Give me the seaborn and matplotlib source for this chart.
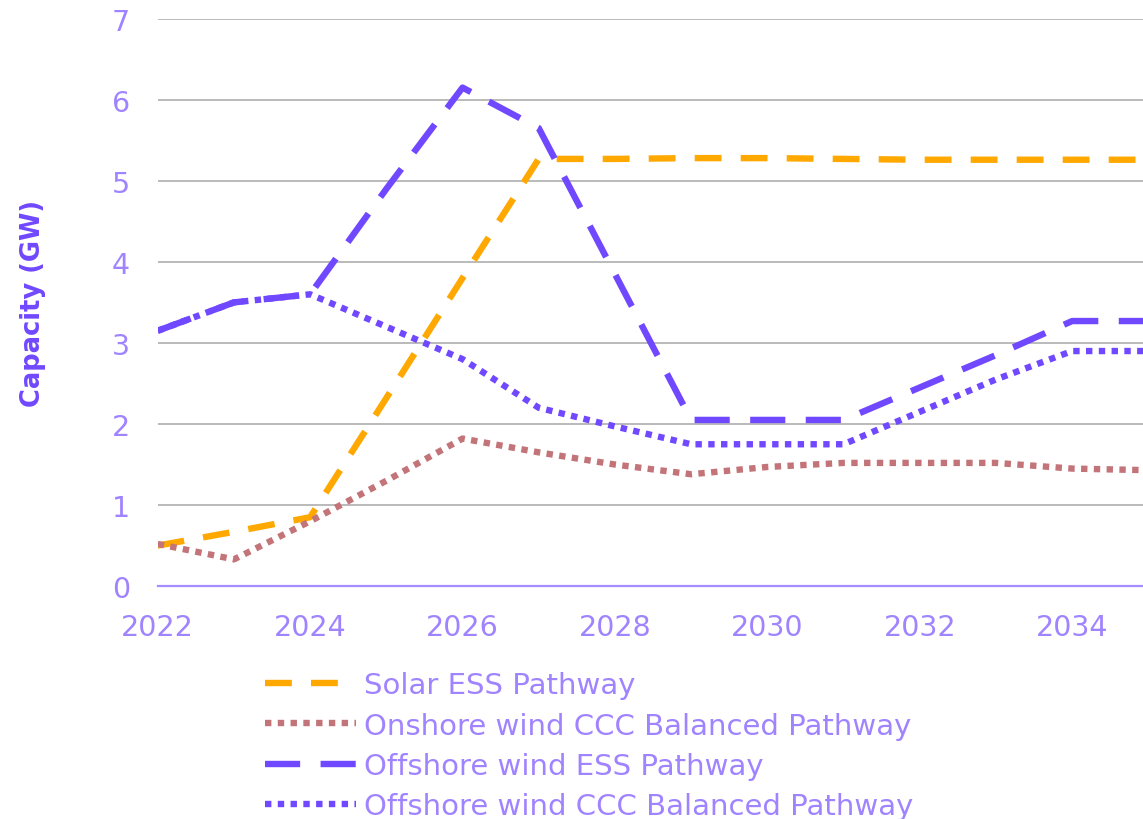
import matplotlib
matplotlib.use("Agg")
import matplotlib.pyplot as plt
import seaborn as sns

# data (GW)
years = list(range(2022, 2036))
solar_ess = [0.50, 0.67, 0.85, 2.32, 3.80, 5.27, 5.27, 5.28, 5.28, 5.27, 5.26, 5.26, 5.26, 5.26]
onshore_ccc = [0.52, 0.33, 0.80, 1.30, 1.82, 1.65, 1.50, 1.38, 1.47, 1.52, 1.52, 1.52, 1.45, 1.43]
offshore_ess = [3.15, 3.50, 3.60, 4.90, 6.15, 5.65, 3.85, 2.05, 2.05, 2.05, 2.45, 2.85, 3.27, 3.27]
offshore_ccc = [3.15, 3.50, 3.60, 3.20, 2.80, 2.20, 1.97, 1.75, 1.75, 1.75, 2.15, 2.55, 2.90, 2.90]

labels = ["Solar ESS Pathway", "Onshore wind CCC Balanced Pathway",
          "Offshore wind ESS Pathway", "Offshore wind CCC Balanced Pathway"]
series = [solar_ess, onshore_ccc, offshore_ess, offshore_ccc]
colors = ["#FFA800", "#C27479", "#7048FF", "#7048FF"]
dashes = [(4.2, 3.0), (1.0, 1.0), (5.5, 3.2), (1.0, 1.0)]

text_col = "#A083FF"

sns.set_style("white")
plt.rcParams["font.family"] = ["DejaVu Sans"]

fig = plt.figure(figsize=(11.43, 8.2), dpi=100)
ax = fig.add_axes([0.138, 0.284, 0.862, 0.692])

for vals, lab, col, d in zip(series, labels, colors, dashes):
    sns.lineplot(x=years, y=vals, ax=ax, color=col, lw=4.6, label=lab)
    line = ax.lines[-1]
    line.set_dashes(d)
    line.set_dash_capstyle("butt")
    line.set_solid_joinstyle("round")

ax.set_xlim(2022, 2034.93)
ax.set_ylim(0, 7)
ax.set_yticks(range(0, 8))
ax.set_xticks(range(2022, 2035, 2))
ax.yaxis.grid(True, color="#B4B4B4", lw=1.3)
ax.set_axisbelow(True)

for s in ["left", "right", "top"]:
    ax.spines[s].set_visible(False)
ax.spines["bottom"].set_color("#A68CFF")
ax.spines["bottom"].set_linewidth(1.6)

ax.tick_params(axis="x", colors="#A68CFF", length=9, width=1.4, direction="out",
               labelsize=20.5, labelcolor=text_col, pad=10)
ax.tick_params(axis="y", length=0, labelsize=20.5, labelcolor=text_col, pad=20)

ax.set_xlabel("")
ax.set_ylabel("Capacity (GW)", fontsize=18.5, fontweight="bold", color="#7048FF", labelpad=47)

ax.get_legend().remove()
handles = ax.lines[:4]
fig.legend(handles, labels, loc="upper left", bbox_to_anchor=(0.232, 0.18),
           frameon=False, fontsize=21, labelcolor=text_col, handlelength=3.1,
           handletextpad=0.3, labelspacing=0.42, borderaxespad=0, borderpad=0)

fig.savefig("out.png", dpi=100)
